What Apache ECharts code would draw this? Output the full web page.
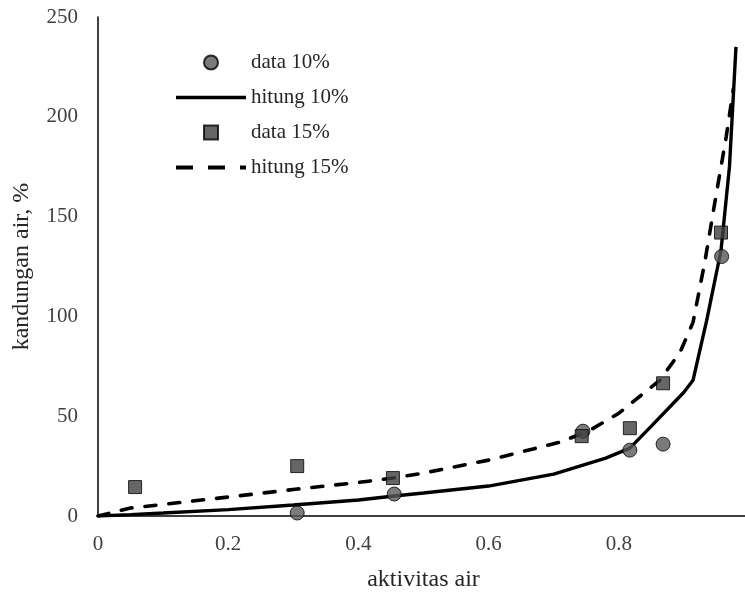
<!DOCTYPE html>
<html>
<head>
<meta charset="utf-8">
<script src="https://cdn.jsdelivr.net/npm/echarts@6/dist/echarts.min.js"></script>
<style>html,body{margin:0;padding:0;background:#fff}#c{width:745px;height:594px}</style>
</head>
<body>
<div id="c"></div>
<script>
// data 10% (measured)
var data10X = [0.306, 0.455, 0.745, 0.817, 0.868, 0.958];
var data10Y = [1.5, 11, 42.5, 33, 36, 130];
// data 15% (measured)
var data15X = [0.057, 0.306, 0.453, 0.743, 0.817, 0.868, 0.957];
var data15Y = [14.5, 25, 19, 40, 44, 66.5, 142];
// hitung 10% (model curve)
var hit10X = [0, 0.05, 0.1, 0.2, 0.3, 0.4, 0.455, 0.5, 0.6, 0.7, 0.74, 0.78, 0.817, 0.85, 0.9, 0.914, 0.935, 0.957, 0.97, 0.98];
var hit10Y = [0, 0.7, 1.5, 3.2, 5.5, 8, 10, 11.5, 15, 21, 25, 29, 34, 45, 62, 68, 98, 133, 175, 235];
// hitung 15% (model curve)
var hit15X = [0, 0.05, 0.1, 0.2, 0.306, 0.4, 0.453, 0.5, 0.6, 0.71, 0.756, 0.8, 0.863, 0.894, 0.914, 0.932, 0.948, 0.965, 0.976];
var hit15Y = [0, 4, 5.8, 9.5, 13.5, 16.8, 19, 21.5, 28, 37, 43, 51.5, 68, 82, 97, 127, 158, 190, 214];
var xTicks = [0, 0.2, 0.4, 0.6, 0.8, 1];
var yTicks = [0, 50, 100, 150, 200, 250];

function pairs(xs, ys){ return xs.map(function(x,i){ return [x, ys[i]]; }); }

var font = '"Liberation Serif", "DejaVu Serif", serif';
var hidden = { color: 'rgba(0,0,0,0)', borderColor: 'rgba(0,0,0,0)', borderWidth: 0 };
var chart = echarts.init(document.getElementById('c'));
chart.setOption({
  animation: false,
  backgroundColor: '#fff',
  grid: { left: 98, top: 17, width: 651, bottom: 78, containLabel: false, outerBoundsMode: 'none' },
  legend: {
    orient: 'vertical', left: 169, top: 47, itemWidth: 70, itemHeight: 14, itemGap: 14,
    textStyle: { fontFamily: font, fontSize: 21, color: '#262626', padding: [0,0,0,0] },
    data: [
      { name: 'data 10%' },
      { name: 'hitung 10%', itemStyle: hidden, lineStyle: { width: 3.5, color: '#000' } },
      { name: 'data 15%', icon: 'path://M0,0L10,0L10,10L0,10Z' },
      { name: 'hitung 15%', itemStyle: hidden, lineStyle: { width: 4, color: '#000', type: [17, 15], cap: 'butt' } }
    ]
  },
  xAxis: {
    type: 'value', min: xTicks[0], max: xTicks[xTicks.length-1], interval: 0.2,
    name: 'aktivitas air', nameLocation: 'middle', nameGap: 52,
    nameTextStyle: { fontFamily: font, fontSize: 24, color: '#262626' },
    axisLine: { show: true, onZero: false, lineStyle: { color: '#000', width: 1.5 } },
    axisTick: { show: false },
    splitLine: { show: false },
    axisLabel: { margin: 18, fontFamily: font, fontSize: 21, color: '#404040' }
  },
  yAxis: {
    type: 'value', min: yTicks[0], max: yTicks[yTicks.length-1], interval: 50,
    name: 'kandungan air, %', nameLocation: 'middle', nameGap: 64, nameRotate: 90,
    nameTextStyle: { fontFamily: font, fontSize: 24, color: '#262626' },
    axisLine: { show: true, lineStyle: { color: '#000', width: 1.5 } },
    axisTick: { show: false },
    splitLine: { show: false },
    axisLabel: { margin: 20, fontFamily: font, fontSize: 21, color: '#404040' }
  },
  series: [
    { name: 'data 10%', type: 'scatter', z: 5, data: pairs(data10X, data10Y), symbol: 'circle', symbolSize: 14,
      itemStyle: { color: '#595959', borderColor: '#000', borderWidth: 1 } },
    { name: 'hitung 10%', type: 'line', z: 3, data: pairs(hit10X, hit10Y), symbol: 'none', showSymbol: false,
      lineStyle: { color: '#000', width: 3.4 }, itemStyle: { color: '#000' } },
    { name: 'data 15%', type: 'scatter', z: 5, data: pairs(data15X, data15Y), symbol: 'rect', symbolSize: 13,
      itemStyle: { color: '#404040', borderColor: '#000', borderWidth: 1 } },
    { name: 'hitung 15%', type: 'line', z: 3, data: pairs(hit15X, hit15Y), symbol: 'none', showSymbol: false,
      lineStyle: { color: '#000', width: 3.6, type: [11, 13], cap: 'round' }, itemStyle: { color: '#000' } }
  ]
});
</script>
</body>
</html>
